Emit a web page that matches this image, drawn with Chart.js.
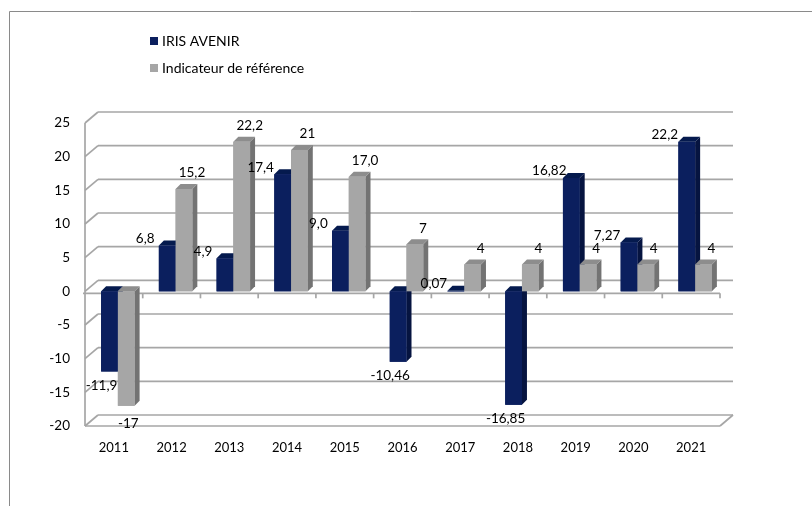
<!DOCTYPE html>
<html>
<head>
<meta charset="utf-8">
<script src="https://cdn.jsdelivr.net/npm/chart.js@4.4.1/dist/chart.umd.min.js"></script>
<style>
    html, body { margin: 0; padding: 0; background: #fff; }
    #wrap { width: 812px; height: 506px; }
</style>
</head>
<body>
<div id="wrap"><canvas id="chart" width="812" height="506"></canvas></div>
<script>
const years = ['2011', '2012', '2013', '2014', '2015', '2016', '2017', '2018', '2019', '2020', '2021'];
const irisValues = [-11.9, 6.8, 4.9, 17.4, 9.0, -10.46, 0.07, -16.85, 16.82, 7.27, 22.2];
const refValues = [-17, 15.2, 22.2, 21, 17.0, 7, 4, 4, 4, 4, 4];
const irisLabels = ['-11,9', '6,8', '4,9', '17,4', '9,0', '-10,46', '0,07', '-16,85', '16,82', '7,27', '22,2'];
const refLabels = ['-17', '15,2', '22,2', '21', '17,0', '7', '4', '4', '4', '4', '4'];
const yMin = -20, yMax = 25, yStep = 5;

const NAVY = '#0b1f5e';
const GREY = '#a6a6a6';
const GRID = '#a6a6a6';

// faux 3D : profondeur des murs et des barres
const WALL = { dx: 13, dy: 11 };
const BOX = { dx: 5, dy: 5 };
const BAR_SHIFT = 4; // les barres sont au milieu de la profondeur
const faces = [
    { front: NAVY, side: '#061440', top: '#051a4e' },
    { front: GREY, side: '#737373', top: '#8d8d8d' },
];

function line(ctx, x1, y1, x2, y2) {
    ctx.beginPath();
    ctx.moveTo(x1, y1);
    ctx.lineTo(x2, y2);
    ctx.stroke();
}

function quad(ctx, pts, color) {
    ctx.fillStyle = color;
    ctx.beginPath();
    ctx.moveTo(pts[0], pts[1]);
    for (let i = 2; i < pts.length; i += 2) ctx.lineTo(pts[i], pts[i + 1]);
    ctx.closePath();
    ctx.fill();
}

const excel3d = {
    id: 'excel3d',
    afterDatasetsUpdate(chart) {
        chart.data.datasets.forEach((ds, di) => {
            chart.getDatasetMeta(di).data.forEach(bar => { bar.x += BAR_SHIFT; });
        });
    },
    beforeDraw(chart) {
        const { ctx } = chart;
        ctx.save();
        ctx.strokeStyle = '#8a8a8a';
        ctx.lineWidth = 1;
        line(ctx, 9.5, 11.5, 812, 11.5);
        line(ctx, 9.5, 11.5, 9.5, 506);
        ctx.restore();
    },
    beforeDatasetsDraw(chart) {
        const { ctx, scales: { x, y } } = chart;
        const L = x.left, R = x.right;
        ctx.save();
        ctx.strokeStyle = GRID;
        ctx.lineWidth = 1.7;
        for (let v = yMin; v <= yMax; v += yStep) {
            const py = y.getPixelForValue(v);
            line(ctx, L + WALL.dx, py - WALL.dy, R + WALL.dx, py - WALL.dy);
            line(ctx, L, py, L + WALL.dx, py - WALL.dy);
        }
        // sol
        const fy = y.getPixelForValue(yMin);
        line(ctx, L, fy, R, fy);
        line(ctx, R, fy, R + WALL.dx, fy - WALL.dy);
        // axe vertical avant
        line(ctx, L, y.getPixelForValue(yMax), L, fy);
        // axe des catégories à zéro + graduations
        const zy = y.getPixelForValue(0) + 2;
        line(ctx, L - 2, zy, R, zy);
        const step = (R - L) / years.length;
        for (let i = 1; i <= years.length; i++) {
            line(ctx, L + i * step, zy, L + i * step, zy + 5);
        }
        ctx.restore();
    },
    afterDatasetsDraw(chart) {
        const { ctx } = chart;
        ctx.save();
        chart.data.datasets.forEach((ds, di) => {
            const f = faces[di];
            chart.getDatasetMeta(di).data.forEach(bar => {
                const l = bar.x - bar.width / 2, r = bar.x + bar.width / 2;
                const t = Math.min(bar.y, bar.base), b = Math.max(bar.y, bar.base);
                quad(ctx, [r, t, r + BOX.dx, t - BOX.dy, r + BOX.dx, b - BOX.dy, r, b], f.side);
                quad(ctx, [l, t, l + BOX.dx, t - BOX.dy, r + BOX.dx, t - BOX.dy, r, t], f.top);
                ctx.fillStyle = f.front;
                ctx.fillRect(l, t, r - l, Math.max(b - t, 0.6));
            });
        });
        // étiquettes de valeurs
        ctx.fillStyle = '#000';
        ctx.font = '13.5px Lato';
        ctx.textAlign = 'center';
        ctx.textBaseline = 'middle';
        chart.getDatasetMeta(0).data.forEach((bar, i) => {
            if (irisValues[i] >= 0) ctx.fillText(irisLabels[i], bar.x - 22, bar.y - 7);
            else ctx.fillText(irisLabels[i], bar.x - 8, bar.y + 14);
        });
        chart.getDatasetMeta(1).data.forEach((bar, i) => {
            if (refValues[i] >= 0) ctx.fillText(refLabels[i], bar.x + 8, bar.y - 16);
            else ctx.fillText(refLabels[i], bar.x + 2, bar.y + 18);
        });
        ctx.restore();
    },
    afterDraw(chart) {
        const { ctx } = chart;
        ctx.save();
        ctx.font = '14px Lato';
        ctx.textBaseline = 'middle';
        chart.data.datasets.forEach((ds, i) => {
            const ly = 41 + i * 27;
            ctx.fillStyle = ds.backgroundColor;
            ctx.fillRect(150, ly - 4, 8, 8);
            ctx.fillStyle = '#000';
            ctx.fillText(ds.label, 162, ly);
        });
        ctx.restore();
    },
};

Chart.defaults.font.family = 'Lato';
Chart.defaults.font.size = 13;
Chart.defaults.color = '#000';

new Chart(document.getElementById('chart'), {
    type: 'bar',
    plugins: [excel3d],
    data: {
        labels: years,
        datasets: [
            { label: 'IRIS AVENIR', data: irisValues, backgroundColor: NAVY },
            { label: 'Indicateur de référence', data: refValues, backgroundColor: GREY },
        ],
    },
    options: {
        responsive: false,
        animation: false,
        devicePixelRatio: 1,
        categoryPercentage: 0.58,
        barPercentage: 1,
        layout: { padding: { top: 123, right: 92, bottom: 50, left: 0 } },
        plugins: {
            legend: { display: false },
            tooltip: { enabled: false },
        },
        scales: {
            x: {
                grid: { display: false, drawTicks: false },
                border: { display: false },
                ticks: { padding: 14, maxRotation: 0 },
                afterFit(s) { s.height = 30; },
            },
            y: {
                min: yMin,
                max: yMax,
                grid: { display: false, drawTicks: false },
                border: { display: false },
                ticks: { stepSize: yStep, padding: 15, font: { size: 13.5 } },
                afterFit(s) { s.width = 85; },
            },
        },
    },
});
</script>
</body>
</html>
